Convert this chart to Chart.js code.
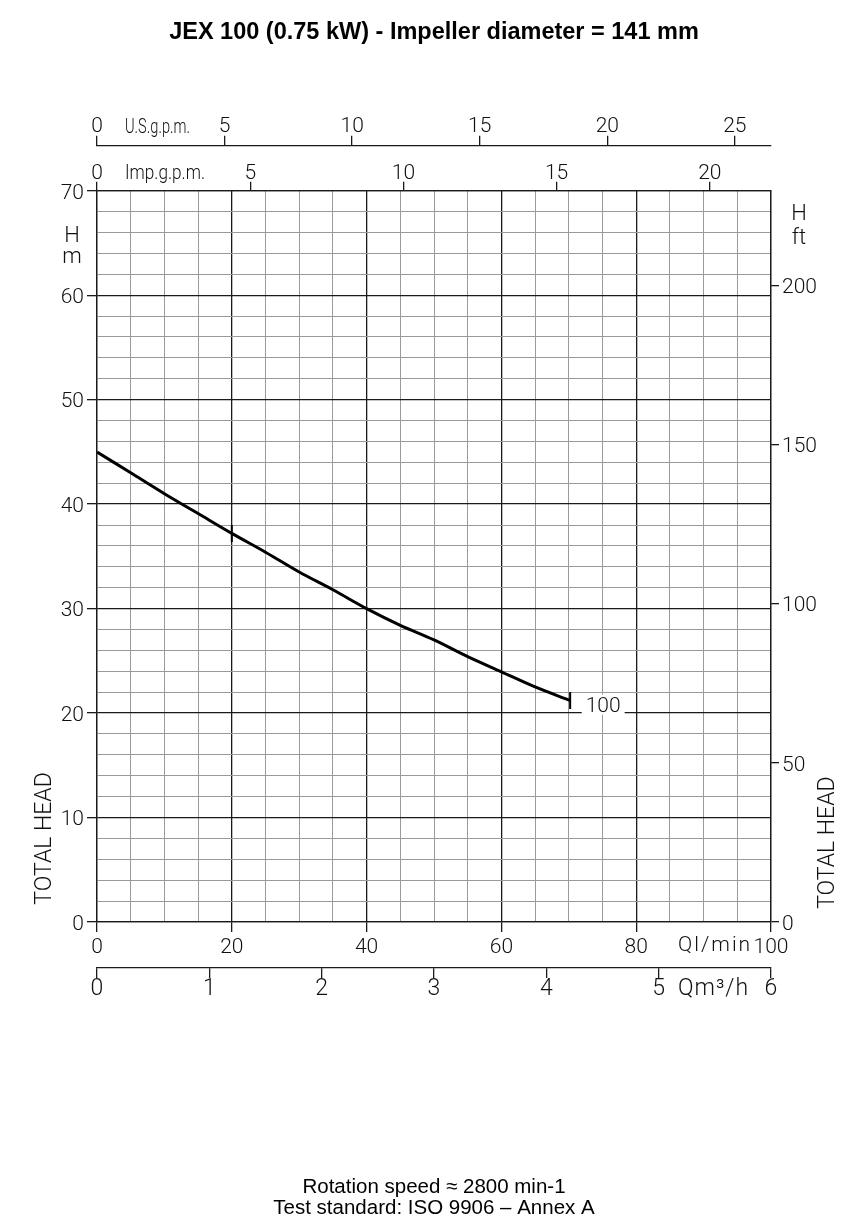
<!DOCTYPE html>
<html><head><meta charset="utf-8">
<script src="https://cdn.jsdelivr.net/npm/chart.js@4.4.1/dist/chart.umd.min.js"></script>
<style>html,body{margin:0;padding:0;background:#fff}#wrap{width:850px;height:1232px;position:relative}</style>
</head><body><div id="wrap"><canvas id="c"></canvas></div>
<script>
// ---- data ----
const flowLmin = [0, 5, 10, 15, 20, 25, 30, 35, 40, 45, 50, 55, 60, 65, 70.2];
const headM    = [45, 43.0, 41.0, 39.1, 37.2, 35.4, 33.5, 31.8, 30.0, 28.4, 27.0, 25.4, 23.95, 22.5, 21.2];
const markerFlows = [20, 70.2];
const curveName = '100';

// tick labels
const qLminLabels = [0, 20, 40, 60, 80, 100];
const headMLabels = [0, 10, 20, 30, 40, 50, 60, 70];
const headFtLabels = [0, 50, 100, 150, 200];
const usGpmLabels = [0, 5, 10, 15, 20, 25];
const impGpmLabels = [0, 5, 10, 15, 20];
const m3hLabels = [0, 1, 2, 3, 4, 5, 6];

const Q_MAX = 100, H_MAX = 70;
const LMIN_TO_USGPM = 0.264172, LMIN_TO_IMPGPM = 0.219969, LMIN_TO_M3H = 0.06, M_TO_FT = 3.28084;

const F = 'Roboto,"DejaVu Sans Condensed","Liberation Sans",Arial,sans-serif';
const W = '300';
const INK = '#111';
const MAJOR = '#1a1a1a', MINOR = '#9a9a9a';

const fixH = h => (s => { s.height = h; });
const fixW = w => (s => { s.width = w; });

const textPlugin = {
  id: 'texts',
  afterDatasetsDraw(chart) {
    const {ctx, scales: {x, y}} = chart;
    ctx.save();
    ctx.font = W + ' 21px ' + F;
    const lx = x.getPixelForValue(75.1), ly = y.getPixelForValue(20.8);
    const w = ctx.measureText(curveName).width;
    ctx.fillStyle = '#fff';
    ctx.fillRect(lx - w / 2 - 4, ly - 10, w + 8, 20);
    ctx.fillStyle = INK; ctx.textAlign = 'center'; ctx.textBaseline = 'middle';
    ctx.fillText(curveName, lx, ly + 2);
    ctx.restore();
  },
  afterDraw(chart) {
    const {ctx, scales: {x, y, us, imp, m3}} = chart;
    ctx.save();
    ctx.fillStyle = INK;
    ctx.textBaseline = 'middle';
    ctx.textAlign = 'left';
    const narrow = (t, px, py, targetW, font) => {
      ctx.save(); ctx.font = font;
      const w = ctx.measureText(t).width;
      ctx.translate(px, py); ctx.scale(targetW / w, 1);
      ctx.fillText(t, 0, 0); ctx.restore();
    };
    narrow('U.S.g.p.m.', x.left + 28, us.bottom - 18, 65, W + ' 21px ' + F);
    narrow('Imp.g.p.m.', x.left + 28, imp.bottom - 17, 80, W + ' 21px ' + F);
    ctx.save(); ctx.font = W + ' 21px ' + F; ctx.letterSpacing = '2px';
    ctx.fillText('Ql/min', x.getPixelForValue(86.2), x.top + 24);
    ctx.restore();
    ctx.font = W + ' 23px ' + F;
    ctx.save(); ctx.letterSpacing = '1px';
    ctx.fillText('Qm³/h', x.getPixelForValue(86.2), m3.top + 21);
    ctx.restore();
    ctx.textAlign = 'center';
    ctx.font = W + ' 22px ' + F;
    ctx.fillText('H', x.left - 25, y.top + 46);
    ctx.fillText('m', x.left - 25, y.top + 67);
    ctx.fillText('H', x.right + 28, y.top + 24);
    ctx.fillText('ft', x.right + 28, y.top + 48);
    ctx.font = W + ' 23px ' + F;
    const drawV = (t, cx, cy) => { ctx.save(); ctx.translate(cx, cy); ctx.rotate(-Math.PI / 2); ctx.fillText(t, 0, 0); ctx.restore(); };
    drawV('TOTAL HEAD', 45, y.getPixelForValue(8.0));
    drawV('TOTAL HEAD', 828, y.getPixelForValue(7.6));
    ctx.restore();
  }
};

const tickFont = {family: F, size: 21, weight: W};

new Chart(document.getElementById('c'), {
  type: 'line',
  data: {
    datasets: [{
      data: flowLmin.map((q, i) => ({x: q, y: headM[i]})),
      borderColor: '#000',
      borderWidth: 3,
      cubicInterpolationMode: 'monotone',
      pointStyle: 'line',
      rotation: 90,
      pointRadius: c => markerFlows.includes(flowLmin[c.dataIndex]) ? 8.5 : 0,
      pointBorderWidth: 2,
      pointBorderColor: '#000',
      pointHoverRadius: 0
    }]
  },
  plugins: [textPlugin],
  options: {
    responsive: true, maintainAspectRatio: false, devicePixelRatio: 1, animation: false,
    layout: {padding: 0},
    plugins: {
      legend: {display: false}, tooltip: {enabled: false},
      title: {
        display: true, fullSize: false, text: 'JEX 100 (0.75 kW) - Impeller diameter = 141 mm',
        color: '#000', font: {family: '"Liberation Sans",Arial,sans-serif', size: 23.5, weight: 'bold', lineHeight: 1.0},
        padding: {top: 21.25, bottom: 0}
      },
      subtitle: {
        display: true, fullSize: false, position: 'bottom',
        text: ['Rotation speed ≈ 2800 min-1', 'Test standard: ISO 9906 – Annex A'],
        color: '#000', font: {family: '"Liberation Sans",Arial,sans-serif', size: 20.5, lineHeight: 1.0244},
        padding: {top: 0, bottom: 13.5}
      }
    },
    scales: {
      x: {
        type: 'linear', position: 'bottom', weight: 1, min: 0, max: Q_MAX,
        afterFit: fixH(46),
        ticks: {stepSize: 5, autoSkip: false, maxRotation: 0, padding: 3, color: INK, font: tickFont,
          callback: v => qLminLabels.includes(v) ? v : ''},
        grid: {
          color: c => qLminLabels.includes(c.tick.value) ? MAJOR : MINOR,
          lineWidth: c => qLminLabels.includes(c.tick.value) ? 1.3 : 1,
          tickColor: c => qLminLabels.includes(c.tick.value) ? MAJOR : 'rgba(0,0,0,0)',
          tickLength: 10
        },
        border: {display: true, color: MAJOR, width: 1.3}
      },
      m3: {
        type: 'linear', position: 'bottom', weight: 2, min: 0, max: Q_MAX * LMIN_TO_M3H,
        afterFit: fixH(208.5),
        ticks: {stepSize: 1, includeBounds: false, autoSkip: false, maxRotation: 0, padding: -3, color: INK,
          font: {family: F, size: 23, weight: W}, callback: v => m3hLabels.includes(v) ? v : ''},
        grid: {drawOnChartArea: false, tickLength: 10, tickColor: MAJOR, lineWidth: 1.3},
        border: {display: true, color: MAJOR, width: 1.3}
      },
      imp: {
        type: 'linear', position: 'top', weight: 1, min: 0, max: Q_MAX * LMIN_TO_IMPGPM,
        afterFit: fixH(45),
        ticks: {stepSize: 5, includeBounds: false, autoSkip: false, maxRotation: 0, padding: -5, color: INK,
          font: tickFont, callback: v => impGpmLabels.includes(v) ? v : ''},
        grid: {drawOnChartArea: false, tickLength: 9, tickColor: MAJOR, lineWidth: 1.3},
        border: {display: true, color: MAJOR, width: 1.3}
      },
      us: {
        type: 'linear', position: 'top', weight: 2, min: 0, max: Q_MAX * LMIN_TO_USGPM,
        afterFit: fixH(101),
        ticks: {stepSize: 5, includeBounds: false, autoSkip: false, maxRotation: 0, padding: -4, color: INK,
          font: tickFont, callback: v => usGpmLabels.includes(v) ? v : ''},
        grid: {drawOnChartArea: false, tickLength: 10, tickColor: MAJOR, lineWidth: 1.3},
        border: {display: true, color: MAJOR, width: 1.3}
      },
      y: {
        type: 'linear', position: 'left', min: 0, max: H_MAX,
        afterFit: fixW(97),
        ticks: {stepSize: 2, autoSkip: false, padding: 3, labelOffset: 2.5, color: INK, font: tickFont,
          callback: v => headMLabels.includes(v) ? v : ''},
        grid: {
          color: c => headMLabels.includes(c.tick.value) ? MAJOR : MINOR,
          lineWidth: c => headMLabels.includes(c.tick.value) ? 1.3 : 1,
          tickColor: c => headMLabels.includes(c.tick.value) ? MAJOR : 'rgba(0,0,0,0)',
          tickLength: 10
        },
        border: {display: true, color: MAJOR, width: 1.3}
      },
      y2: {
        type: 'linear', position: 'right', min: 0, max: H_MAX * M_TO_FT,
        afterFit: fixW(79),
        ticks: {stepSize: 50, includeBounds: false, autoSkip: false, padding: 3, labelOffset: 2.5, color: INK, font: tickFont,
          callback: v => headFtLabels.includes(v) ? v : ''},
        grid: {drawOnChartArea: false, tickLength: 8, tickColor: MAJOR, lineWidth: 1.3},
        border: {display: true, color: MAJOR, width: 1.3}
      }
    }
  }
});
</script></body></html>
